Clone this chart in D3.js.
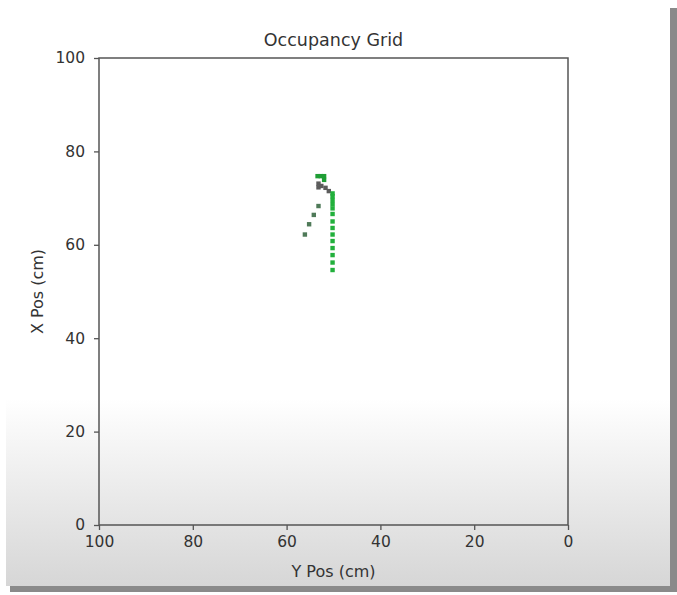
<!DOCTYPE html>
<html>
<head>
<meta charset="utf-8">
<script src="https://cdn.jsdelivr.net/npm/d3@7"></script>
<style>
  body { margin: 0; background: white; }
  text { font-family: "DejaVu Sans", sans-serif; fill: #333; }
</style>
</head>
<body>
<svg id="grid"></svg>
<script>
// occupancy grid scatter
var W = 677;
var H = 595;
margin = {top: 58, right: 109, bottom: 70, left: 99};

var xTicks = [100, 80, 60, 40, 20, 0];
var yTicks = [0, 20, 40, 60, 80, 100];

// free cells along the straight scan (green)
var scanY = [50.2, 50.2, 50.2, 50.2, 50.2, 50.2, 50.2, 50.2, 50.2, 50.2, 50.2, 50.2, 50.2, 50.2];
var scanX = [54.6, 56.2, 57.8, 59.3, 60.8, 62.2, 63.6, 65.0, 66.6, 67.8, 68.7, 69.6, 70.4, 71.0];

// diagonal scan (dark green)
var diagY = [56.1, 55.2, 54.2, 53.2];
var diagX = [62.2, 64.4, 66.4, 68.3];

// green cells at the top
var topY = [53.4, 52.7, 52.0, 52.0];
var topX = [74.7, 74.7, 74.7, 73.9];

// occupied cells (gray)
var occY = [53.2, 53.2, 52.6, 51.7, 51.0];
var occX = [73.1, 72.3, 72.6, 72.2, 71.5];

var svg = d3.select("#grid")
  .attr("width", W)
  .attr("height", H);

// screenshot card: gradient and shadow
var defs = svg.append("defs");
var grad = defs.append("linearGradient")
  .attr("id", "fade")
  .attr("x1", 0).attr("y1", 0).attr("x2", 0).attr("y2", 1);
grad.append("stop").attr("offset", "0%").attr("stop-color", "#ffffff");
grad.append("stop").attr("offset", "68%").attr("stop-color", "#ffffff");
grad.append("stop").attr("offset", "100%").attr("stop-color", "#d6d6d6");

svg.append("rect")
  .attr("x", 670).attr("y", 8)
  .attr("width", 7).attr("height", 584)
  .attr("fill", "#8a8a8a");
svg.append("rect")
  .attr("x", 10).attr("y", 586)
  .attr("width", 667).attr("height", 6)
  .attr("fill", "#8a8a8a");
svg.append("rect")
  .attr("x", 6).attr("y", 0)
  .attr("width", 664).attr("height", 586)
  .attr("fill", "url(#fade)");

x = d3.scaleLinear()
  .domain([100, 0])
  .range([margin.left, W - margin.right]);

y = d3.scaleLinear()
  .domain([0, 100])
  .range([H - margin.bottom, margin.top]);

function cells(ys, xs, color) {
  svg.append("g")
    .selectAll("rect")
    .data(ys.map((v, i) => ({y: v, x: xs[i]})))
    .enter()
    .append("rect")
    .attr("x", d => x(d.y) - 2.2)
    .attr("y", d => y(d.x) - 2.2)
    .attr("width", 4.4)
    .attr("height", 4.4)
    .attr("fill", color);
}

cells(occY, occX, "#5c5c5c");
cells(topY, topX, "#1f9e35");
cells(scanY, scanX, "#22b03c");
cells(diagY, diagX, "#4f7a58");

xAxis = g => g
  .attr("transform", `translate(0,${y(0)})`)
  .call(d3.axisBottom(x).tickValues(xTicks).tickSize(5).tickPadding(6))
  .call(g => g.select(".domain").remove());

yAxis = g => g
  .attr("transform", `translate(${x(100)},0)`)
  .call(d3.axisLeft(y).tickValues(yTicks).tickSize(5).tickPadding(9))
  .call(g => g.select(".domain").remove());

svg.append("g").call(xAxis);
svg.append("g").call(yAxis);

svg.selectAll(".tick line").attr("stroke", "#555").attr("stroke-width", 1.3);
svg.selectAll(".tick text")
  .style("font-size", "15.5px")
  .style("font-family", "DejaVu Sans")
  .attr("fill", "#333");

// frame
svg.append("rect")
  .attr("x", x(100))
  .attr("y", y(100))
  .attr("width", x(0) - x(100))
  .attr("height", y(0) - y(100))
  .attr("fill", "none")
  .attr("stroke", "#555")
  .attr("stroke-width", 1.5);

svg.append("text")
  .attr("x", (x(100) + x(0)) / 2)
  .attr("y", 46)
  .attr("text-anchor", "middle")
  .style("font-size", "17.5px")
  .text("Occupancy Grid");

svg.append("text")
  .attr("x", (x(100) + x(0)) / 2)
  .attr("y", 577)
  .attr("text-anchor", "middle")
  .style("font-size", "16px")
  .text("Y Pos (cm)");

svg.append("text")
  .attr("transform", `translate(43,${(y(0) + y(100)) / 2}) rotate(-90)`)
  .attr("text-anchor", "middle")
  .style("font-size", "16px")
  .text("X Pos (cm)");
</script>
</body>
</html>
